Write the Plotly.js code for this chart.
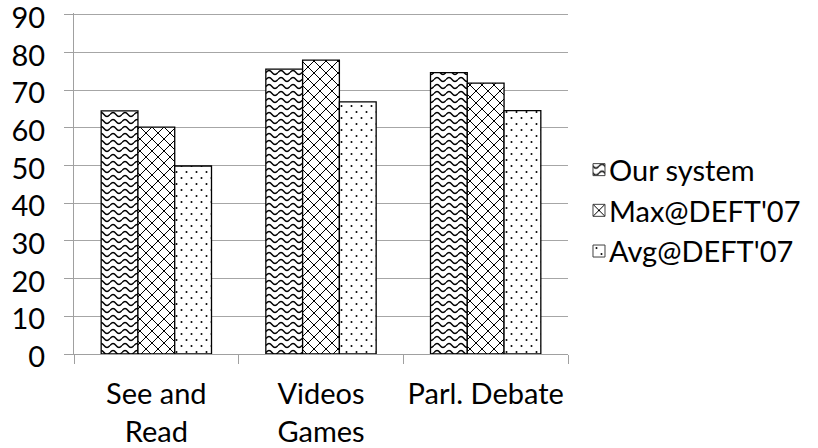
<!DOCTYPE html>
<html>
<head>
<meta charset="utf-8">
<script src="https://cdn.plot.ly/plotly-3.0.1.min.js"></script>
<style>html,body{margin:0;padding:0;background:#fff;}#chart{width:818px;height:448px;}</style>
</head>
<body>
<div id="chart"></div>
<script>
const categories = ["See and<br>Read", "Videos<br>Games", "Parl. Debate"];
const seriesNames = ["Our system", "Max@DEFT'07", "Avg@DEFT'07"];
const ourSystem = [64.5, 75.6, 74.7];
const maxDeft = [60.2, 78.0, 71.9];
const avgDeft = [49.9, 66.9, 64.6];
const yTicks = [0, 10, 20, 30, 40, 50, 60, 70, 80, 90];

const fallbackShapes = ["-", "x", "."];
const seriesValues = [ourSystem, maxDeft, avgDeft];

const traces = seriesValues.map((vals, i) => ({
  type: 'bar',
  name: seriesNames[i],
  x: categories,
  y: vals,
  marker: {
    color: 'white',
    line: {color: '#000', width: 1.3},
    pattern: {shape: fallbackShapes[i], fgcolor: '#000', bgcolor: '#fff', size: 10, solidity: 0.15}
  },
  hoverinfo: 'none'
}));

const font = {family: 'Lato, "Open Sans", sans-serif', size: 29, color: '#000'};

const layout = {
  width: 818, height: 448,
  margin: {l: 74, r: 250, t: 13, b: 94, pad: 0},
  paper_bgcolor: '#fff', plot_bgcolor: '#fff',
  font: font,
  barmode: 'group',
  bargap: 0.33,
  bargroupgap: 0,
  showlegend: true,
  legend: {x: 1.002, xanchor: 'left', y: 0.42, yanchor: 'middle', font: font,
           bgcolor: 'rgba(0,0,0,0)', borderwidth: 0, itemclick: false, tracegroupgap: 0},
  xaxis: {
    type: 'category',
    showgrid: false,
    showline: true, linecolor: '#a0a0a0', linewidth: 1,
    ticks: 'outside', tickson: 'boundaries', ticklen: 9, tickcolor: '#a0a0a0', tickwidth: 1,
    tickangle: 0,
    ticklabelstandoff: 14,
    ticklabeloverflow: 'allow',
    tickfont: font,
    fixedrange: true
  },
  yaxis: {
    range: [0, 90.5],
    tickmode: 'array',
    tickvals: yTicks,
    ticktext: yTicks.map(String),
    showgrid: true, gridcolor: '#a6a6a6', gridwidth: 1,
    showline: true, linecolor: '#a0a0a0', linewidth: 1,
    zeroline: false,
    ticks: 'outside', ticklen: 9, tickcolor: '#a0a0a0', tickwidth: 1,
    ticklabelstandoff: 13,
    ticklabelshift: 3,
    ticklabeloverflow: 'allow',
    tickfont: font,
    fixedrange: true
  }
};

const gd = document.getElementById('chart');
Plotly.newPlot(gd, traces, layout, {displayModeBar: false, staticPlot: true}).then(() => {
  const NS = 'http://www.w3.org/2000/svg';
  const svg = gd.querySelector('.main-svg');
  const defs = document.createElementNS(NS, 'defs');
  defs.innerHTML =
    '<pattern id="patWave" patternUnits="userSpaceOnUse" width="12" height="7">' +
      '<rect width="12" height="7" fill="#fff"/>' +
      '<path d="M0,3.5 Q3,-0.5 6,3.5 T12,3.5" fill="none" stroke="#000" stroke-width="1.3"/>' +
    '</pattern>' +
    '<pattern id="patX" patternUnits="userSpaceOnUse" width="12" height="12">' +
      '<rect width="12" height="12" fill="#fff"/>' +
      '<path d="M-2,-2L14,14M14,-2L-2,14" fill="none" stroke="#000" stroke-width="1"/>' +
    '</pattern>' +
    '<pattern id="patDot" patternUnits="userSpaceOnUse" width="10" height="12">' +
      '<rect width="10" height="12" fill="#fff"/>' +
      '<circle cx="2.5" cy="3" r="1" fill="#000"/>' +
      '<circle cx="7.5" cy="9" r="1" fill="#000"/>' +
    '</pattern>';
  svg.insertBefore(defs, svg.firstChild);
  const ids = ['patWave', 'patX', 'patDot'];
  gd.querySelectorAll('.barlayer .trace').forEach((tr, i) => {
    tr.querySelectorAll('path').forEach(p => { p.style.fill = 'url(#' + ids[i] + ')'; });
  });
  gd.querySelectorAll('.legend .traces').forEach((tr, i) => {
    const lp = tr.querySelector('.legendpoints');
    if (lp) lp.setAttribute('transform', 'translate(10,0)');
    tr.querySelectorAll('.legendpoints path').forEach(p => {
      p.style.fill = 'url(#' + ids[i] + ')';
      p.style.stroke = '#404040';
      p.style.strokeWidth = '1px';
    });
  });
});
</script>
</body>
</html>
